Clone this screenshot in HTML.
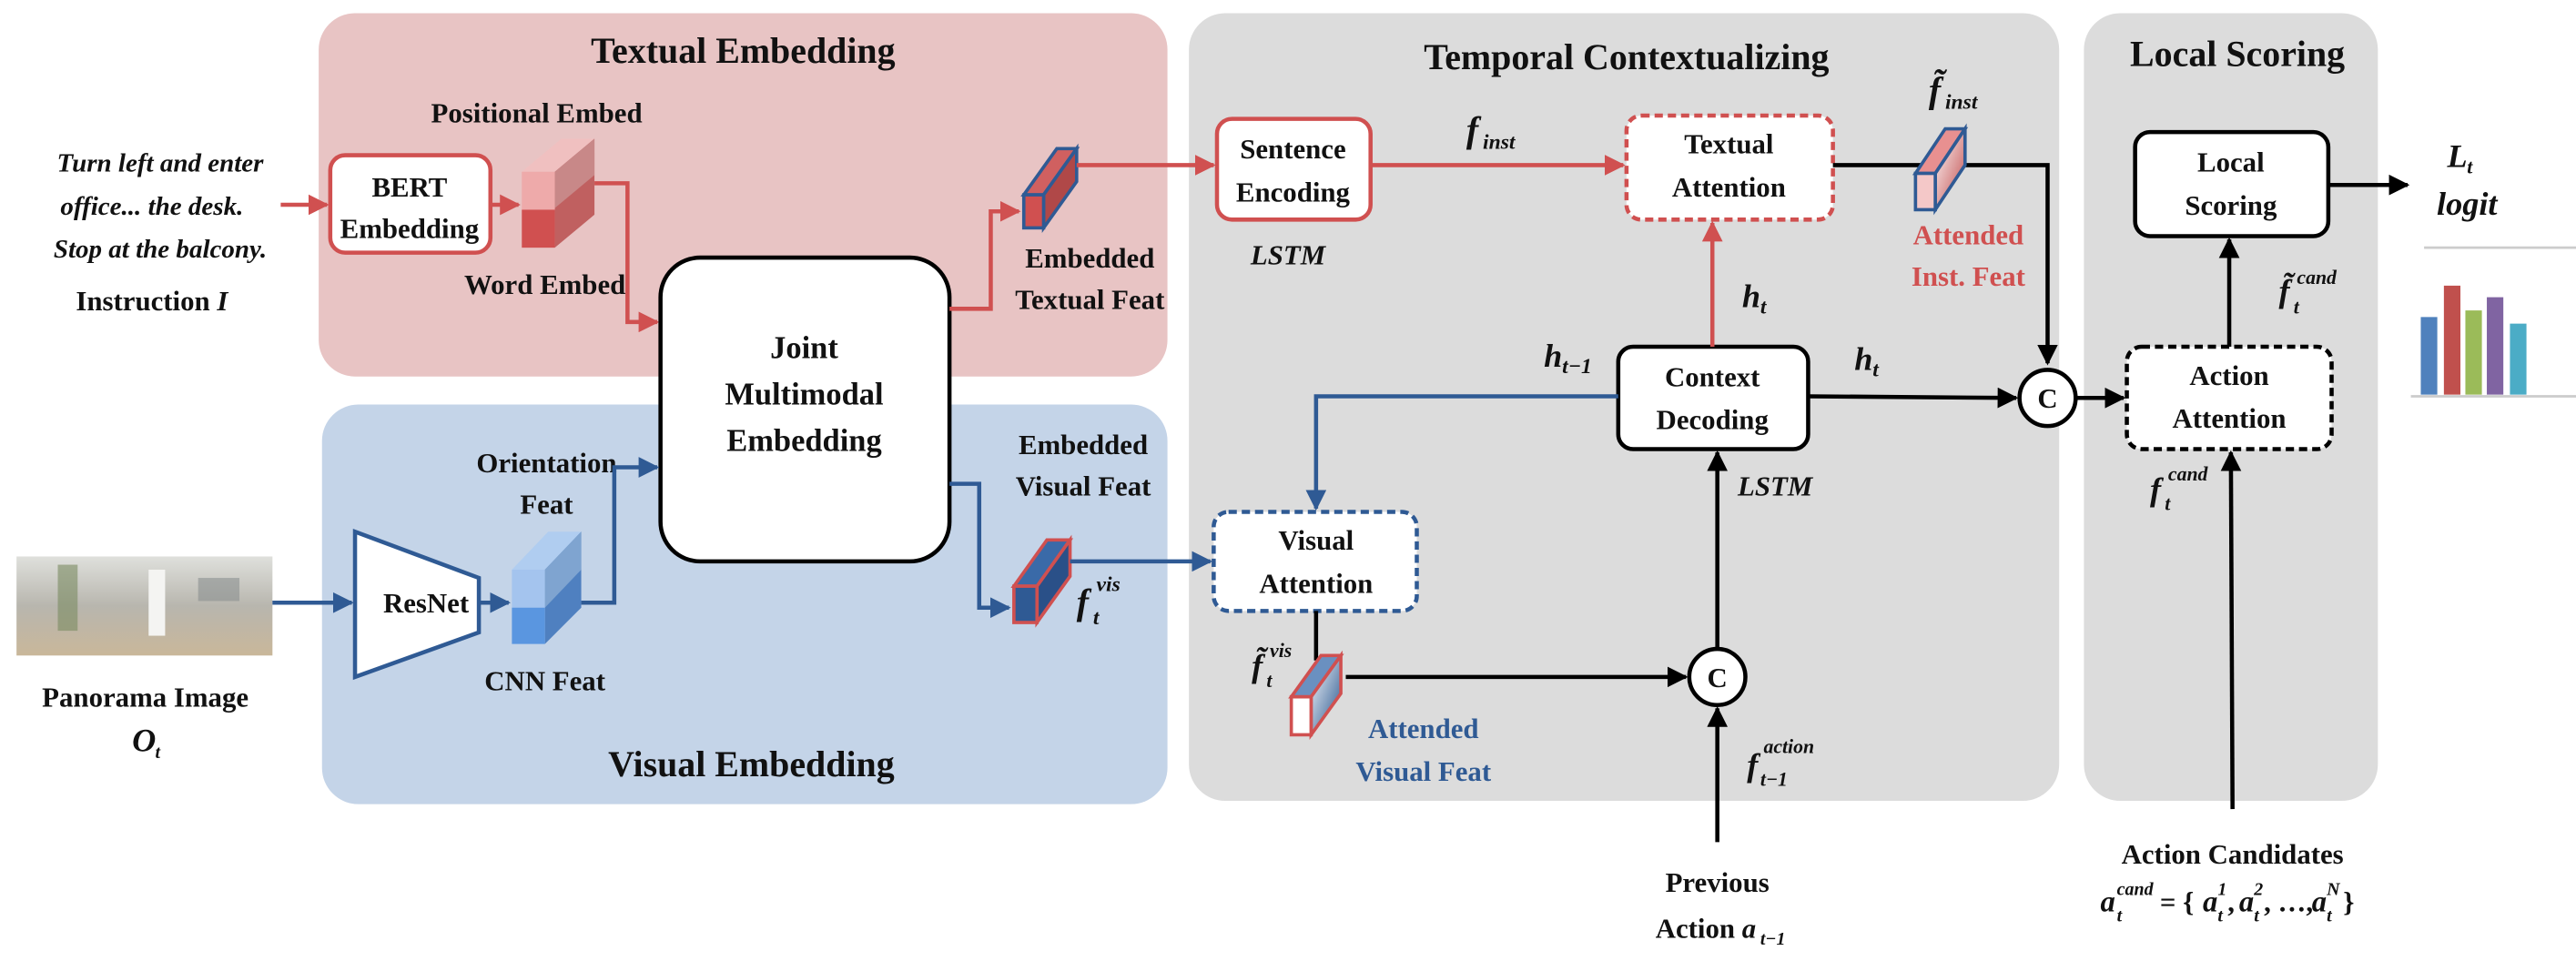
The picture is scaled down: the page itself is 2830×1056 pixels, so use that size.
<!DOCTYPE html>
<html><head><meta charset="utf-8"><style>
html,body{margin:0;padding:0;background:#fff;}
svg{display:block}
text{font-family:"Liberation Serif",serif;font-weight:bold;fill:#111;}
.t{font-size:17px;text-anchor:middle;}
.h{font-size:22px;text-anchor:middle;}
.i{font-style:italic;}
.m{font-style:italic;font-size:20px;}
.s{font-style:italic;font-size:11px;}
</style></head><body>
<svg width="2830" height="1056" viewBox="0 0 1560 582" preserveAspectRatio="none" xmlns="http://www.w3.org/2000/svg">
<defs>
<marker id="ar" viewBox="0 0 10 10" refX="9" refY="5" markerWidth="5" markerHeight="5" orient="auto"><path d="M0,0L10,5L0,10z" fill="#d05050"/></marker>
<marker id="ab" viewBox="0 0 10 10" refX="9" refY="5" markerWidth="5" markerHeight="5" orient="auto"><path d="M0,0L10,5L0,10z" fill="#2f5a94"/></marker>
<marker id="ak" viewBox="0 0 10 10" refX="9" refY="5" markerWidth="5" markerHeight="5" orient="auto"><path d="M0,0L10,5L0,10z" fill="#000"/></marker>
<linearGradient id="pg" x1="0" y1="0" x2="1" y2="1"><stop offset="0" stop-color="#fff"/><stop offset="1" stop-color="#c04848"/></linearGradient>
<linearGradient id="bg" x1="0" y1="0" x2="1" y2="1"><stop offset="0" stop-color="#fff"/><stop offset="1" stop-color="#1f4f8a"/></linearGradient>
<linearGradient id="pan" x1="0" y1="0" x2="0" y2="1"><stop offset="0" stop-color="#dfe0dc"/><stop offset="0.5" stop-color="#b8b6ae"/><stop offset="1" stop-color="#c9b79a"/></linearGradient>
</defs>
<rect x="193" y="8" width="514" height="220" rx="22" fill="#e8c4c4"/>
<rect x="195" y="245" width="512" height="242" rx="22" fill="#c4d4e8"/>
<rect x="720" y="8" width="527" height="477" rx="22" fill="#dcdcdc"/>
<rect x="1262" y="8" width="178" height="477" rx="22" fill="#dcdcdc"/>
<text class="h" x="450" y="38">Textual Embedding</text>
<text class="h" x="455" y="470">Visual Embedding</text>
<text class="h" x="985" y="42">Temporal Contextualizing</text>
<text class="h" x="1355" y="40">Local Scoring</text>

<text class="t i" x="97" y="104" style="font-size:16px">Turn left and enter</text>
<text class="t i" x="92" y="130" style="font-size:16px">office... the desk.</text>
<text class="t i" x="97" y="156" style="font-size:16px">Stop at the balcony.</text>
<text class="t" x="92" y="188">Instruction <tspan class="i">I</tspan></text>
<line x1="170" y1="124" x2="198" y2="124" stroke="#d05050" stroke-width="2.5" marker-end="url(#ar)"/>
<rect x="200" y="94" width="97" height="59" rx="9" fill="#fff" stroke="#d05050" stroke-width="2.5"/>
<text class="t" x="248" y="119">BERT</text><text class="t" x="248" y="144">Embedding</text>
<line x1="297" y1="124" x2="314" y2="124" stroke="#d05050" stroke-width="2.5" marker-end="url(#ar)"/>
<polygon points="316,104 340,84 360,84 336,104" fill="#f0c0c0"/>
<polygon points="336,104 360,84 360,130 336,150" fill="#c06060"/>
<polygon points="336,104 360,84 360,106 336,126" fill="#c88888"/>
<rect x="316" y="104" width="20" height="23" fill="#eeaaaa"/>
<rect x="316" y="127" width="20" height="23" fill="#d05050"/>
<text class="t" x="325" y="74">Positional Embed</text>
<text class="t" x="330" y="178">Word Embed</text>
<polyline points="360,111 380,111 380,195 398,195" fill="none" stroke="#d05050" stroke-width="2.5" marker-end="url(#ar)"/>
<rect x="400" y="156" width="175" height="184" rx="24" fill="#fff" stroke="#000" stroke-width="2.5"/>
<text class="t" x="487" y="217" style="font-size:19px">Joint</text>
<text class="t" x="487" y="245" style="font-size:19px">Multimodal</text>
<text class="t" x="487" y="273" style="font-size:19px">Embedding</text>
<polyline points="575,187 600,187 600,128 617,128" fill="none" stroke="#d05050" stroke-width="2.5" marker-end="url(#ar)"/>
<polygon points="620,118 640,90 652,90 632,118" fill="#d06060" stroke="#2f5a94" stroke-width="2"/>
<polygon points="632,118 652,90 652,110 632,138" fill="#b04848" stroke="#2f5a94" stroke-width="2"/>
<rect x="620" y="118" width="12" height="20" fill="#d05050" stroke="#2f5a94" stroke-width="2"/>
<text class="t" x="660" y="162">Embedded</text><text class="t" x="660" y="187">Textual Feat</text>
<line x1="652" y1="100" x2="735" y2="100" stroke="#d05050" stroke-width="2.5" marker-end="url(#ar)"/>
<rect x="10" y="337" width="155" height="60" fill="url(#pan)"/>
<rect x="35" y="342" width="12" height="40" fill="#7a8a60" opacity="0.6"/>
<rect x="90" y="345" width="10" height="40" fill="#f4f4f2"/>
<rect x="120" y="350" width="25" height="14" fill="#8a9090" opacity="0.6"/>
<text class="t" x="88" y="428">Panorama Image</text>
<text class="m" x="80" y="455">O</text><text class="s" x="94" y="459">t</text>
<line x1="165" y1="365" x2="213" y2="365" stroke="#2f5a94" stroke-width="2.5" marker-end="url(#ab)"/>
<polygon points="215,322 290,350 290,383 215,410" fill="#fff" stroke="#2f5a94" stroke-width="2.5"/>
<text class="t" x="258" y="371">ResNet</text>
<line x1="290" y1="365" x2="308" y2="365" stroke="#2f5a94" stroke-width="2.5" marker-end="url(#ab)"/>
<polygon points="310,345 332,322 352,322 330,345" fill="#b0cdf0"/>
<polygon points="330,345 352,322 352,368 330,390" fill="#4f80c0"/>
<polygon points="330,345 352,322 352,345 330,368" fill="#7fa4d0"/>
<rect x="310" y="345" width="20" height="23" fill="#a4c4ee"/>
<rect x="310" y="368" width="20" height="22" fill="#5a96e0"/>
<text class="t" x="331" y="286">Orientation</text><text class="t" x="331" y="311">Feat</text>
<text class="t" x="330" y="418">CNN Feat</text>
<polyline points="352,365 372,365 372,283 398,283" fill="none" stroke="#2f5a94" stroke-width="2.5" marker-end="url(#ab)"/>
<polyline points="575,293 593,293 593,368 611,368" fill="none" stroke="#2f5a94" stroke-width="2.5" marker-end="url(#ab)"/>
<polygon points="614,355 634,327 648,327 628,355" fill="#3a6aa8" stroke="#d05050" stroke-width="2"/>
<polygon points="628,355 648,327 648,349 628,377" fill="#2a5088" stroke="#d05050" stroke-width="2"/>
<rect x="614" y="355" width="14" height="22" fill="#2f5a94" stroke="#d05050" stroke-width="2"/>
<text class="t" x="656" y="275">Embedded</text><text class="t" x="656" y="300">Visual Feat</text>
<text class="m" x="652" y="372" style="font-size:22px">f</text><text class="s" x="664" y="358" style="font-size:13px">vis</text><text class="s" x="662" y="378" style="font-size:13px">t</text>
<line x1="648" y1="340" x2="733" y2="340" stroke="#2f5a94" stroke-width="2.5" marker-end="url(#ab)"/>

<rect x="737" y="72" width="93" height="61" rx="9" fill="#fff" stroke="#d05050" stroke-width="2.5"/>
<text class="t" x="783" y="96">Sentence</text><text class="t" x="783" y="122">Encoding</text>
<text class="t i" x="780" y="160">LSTM</text>
<line x1="830" y1="100" x2="983" y2="100" stroke="#d05050" stroke-width="2.5" marker-end="url(#ar)"/>
<text class="m" x="888" y="86" style="font-size:22px">f</text><text class="s" x="898" y="90" style="font-size:13px">inst</text>
<rect x="985" y="70" width="125" height="63" rx="9" fill="#fff" stroke="#d05050" stroke-width="2.5" stroke-dasharray="5,3"/>
<text class="t" x="1047" y="93">Textual</text><text class="t" x="1047" y="119">Attention</text>
<polyline points="1110,100 1240,100 1240,220" fill="none" stroke="#000" stroke-width="2.5" marker-end="url(#ak)"/>
<polygon points="1160,105 1178,78 1190,78 1172,105" fill="#e89090" stroke="#2f5a94" stroke-width="2"/>
<polygon points="1172,105 1190,78 1190,100 1172,127" fill="url(#pg)" stroke="#2f5a94" stroke-width="2"/>
<rect x="1160" y="105" width="12" height="22" fill="#f4c8c8" stroke="#2f5a94" stroke-width="2"/>
<text class="m" x="1168" y="62" style="font-size:22px">f̃</text><text class="s" x="1178" y="66" style="font-size:13px">inst</text>
<text class="t" x="1192" y="148" style="fill:#d05050">Attended</text>
<text class="t" x="1192" y="173" style="fill:#d05050">Inst. Feat</text>
<rect x="980" y="210" width="115" height="62" rx="9" fill="#fff" stroke="#000" stroke-width="2.5"/>
<text class="t" x="1037" y="234">Context</text><text class="t" x="1037" y="260">Decoding</text>
<line x1="1037" y1="210" x2="1037" y2="135" stroke="#d05050" stroke-width="2.5" marker-end="url(#ar)"/>
<text class="m" x="1055" y="186">h</text><text class="s" x="1066" y="190" style="font-size:13px">t</text>
<text class="m" x="935" y="222">h</text><text class="s" x="946" y="226" style="font-size:13px">t−1</text>
<text class="m" x="1123" y="224">h</text><text class="s" x="1134" y="228" style="font-size:13px">t</text>
<line x1="1095" y1="240" x2="1221" y2="241" stroke="#000" stroke-width="2.5" marker-end="url(#ak)"/>
<circle cx="1240" cy="241" r="17" fill="#fff" stroke="#000" stroke-width="2.5"/>
<text class="t" x="1240" y="247">C</text>
<polyline points="980,240 797,240 797,308" fill="none" stroke="#2f5a94" stroke-width="2.5" marker-end="url(#ab)"/>
<rect x="735" y="310" width="123" height="60" rx="9" fill="#fff" stroke="#2f5a94" stroke-width="2.5" stroke-dasharray="5,3"/>
<text class="t" x="797" y="333">Visual</text><text class="t" x="797" y="359">Attention</text>
<line x1="797" y1="370" x2="797" y2="400" stroke="#000" stroke-width="2.5"/>
<line x1="815" y1="410" x2="1021" y2="410" stroke="#000" stroke-width="2.5" marker-end="url(#ak)"/>
<polygon points="782,422 800,397 812,397 794,422" fill="#6a90c0" stroke="#d05050" stroke-width="2"/>
<polygon points="794,422 812,397 812,420 794,445" fill="url(#bg)" stroke="#d05050" stroke-width="2"/>
<rect x="782" y="422" width="12" height="23" fill="#fff" stroke="#d05050" stroke-width="2"/>
<text class="m" x="758" y="410">f̃</text><text class="s" x="769" y="398" style="font-size:12px">vis</text><text class="s" x="767" y="416" style="font-size:12px">t</text>
<text class="t" x="862" y="447" style="fill:#2f5a94">Attended</text>
<text class="t" x="862" y="473" style="fill:#2f5a94">Visual Feat</text>
<circle cx="1040" cy="410" r="17" fill="#fff" stroke="#000" stroke-width="2.5"/>
<text class="t" x="1040" y="416">C</text>
<line x1="1040" y1="510" x2="1040" y2="429" stroke="#000" stroke-width="2.5" marker-end="url(#ak)"/>
<line x1="1040" y1="393" x2="1040" y2="274" stroke="#000" stroke-width="2.5" marker-end="url(#ak)"/>
<text class="t i" x="1075" y="300">LSTM</text>
<text class="m" x="1058" y="470">f</text><text class="s" x="1068" y="456" style="font-size:12px">action</text><text class="s" x="1066" y="476" style="font-size:12px">t−1</text>
<text class="t" x="1040" y="540">Previous</text>
<text class="t" x="1033" y="568">Action <tspan class="i">a</tspan></text><text class="s" x="1066" y="572">t−1</text>

<line x1="1257" y1="241" x2="1286" y2="241" stroke="#000" stroke-width="2.5" marker-end="url(#ak)"/>
<rect x="1288" y="210" width="124" height="62" rx="9" fill="#fff" stroke="#000" stroke-width="2.5" stroke-dasharray="5,3"/>
<text class="t" x="1350" y="233">Action</text><text class="t" x="1350" y="259">Attention</text>
<rect x="1293" y="80" width="117" height="63" rx="9" fill="#fff" stroke="#000" stroke-width="2.5"/>
<text class="t" x="1351" y="104">Local</text><text class="t" x="1351" y="130">Scoring</text>
<line x1="1350" y1="210" x2="1350" y2="145" stroke="#000" stroke-width="2.5" marker-end="url(#ak)"/>
<text class="m" x="1380" y="183">f̃</text><text class="s" x="1391" y="172" style="font-size:12px">cand</text><text class="s" x="1389" y="190" style="font-size:12px">t</text>
<line x1="1352" y1="490" x2="1351" y2="274" stroke="#000" stroke-width="2.5" marker-end="url(#ak)"/>
<text class="m" x="1302" y="303">f</text><text class="s" x="1313" y="291" style="font-size:12px">cand</text><text class="s" x="1311" y="309" style="font-size:12px">t</text>
<line x1="1410" y1="112" x2="1458" y2="112" stroke="#000" stroke-width="2.5" marker-end="url(#ak)"/>
<text class="m" x="1482" y="101">L</text><text class="s" x="1494" y="105" style="font-size:12px">t</text>
<text class="t i" x="1494" y="130" style="font-size:20px">logit</text>
<line x1="1468" y1="150" x2="1560" y2="150" stroke="#ccc" stroke-width="1.5"/>
<rect x="1466" y="192" width="10" height="47" fill="#4f81bd"/>
<rect x="1480" y="173" width="10" height="66" fill="#c0504d"/>
<rect x="1493" y="188" width="10" height="51" fill="#9bbb59"/>
<rect x="1506" y="180" width="10" height="59" fill="#8064a2"/>
<rect x="1520" y="196" width="10" height="43" fill="#4bacc6"/>
<line x1="1460" y1="240" x2="1560" y2="240" stroke="#ccc" stroke-width="1.5"/>
<text class="t" x="1352" y="523">Action Candidates</text>
<text class="m" x="1272" y="552" style="font-size:18px">a</text><text class="s" x="1282" y="542">cand</text><text class="s" x="1282" y="558">t</text>
<text x="1308" y="552" style="font-size:17px">= {</text>
<text class="m" x="1334" y="552" style="font-size:18px">a</text><text class="s" x="1343" y="542">1</text><text class="s" x="1343" y="558">t</text><text x="1349" y="552" style="font-size:17px">,</text>
<text class="m" x="1356" y="552" style="font-size:18px">a</text><text class="s" x="1365" y="542">2</text><text class="s" x="1365" y="558">t</text><text x="1371" y="552" style="font-size:17px">, …,</text>
<text class="m" x="1400" y="552" style="font-size:18px">a</text><text class="s" x="1409" y="542">N</text><text class="s" x="1409" y="558">t</text><text x="1419" y="552" style="font-size:17px">}</text>
</svg>
</body></html>
